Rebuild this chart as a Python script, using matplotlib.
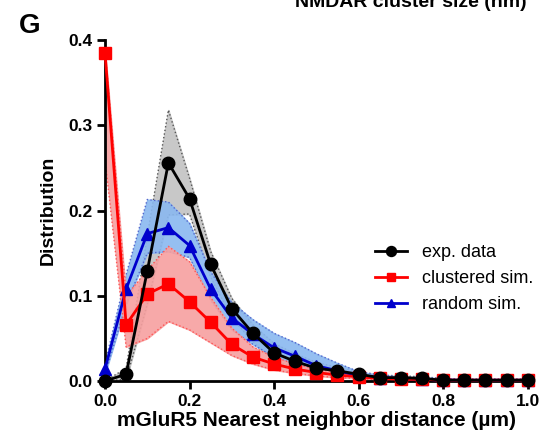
import matplotlib
matplotlib.use("Agg")
import matplotlib.pyplot as plt
import numpy as np

#------------------------------------------------------------------------------
# Datos
#------------------------------------------------------------------------------
distancia = [0.0, 0.05, 0.1, 0.15, 0.2, 0.25, 0.3, 0.35, 0.4, 0.45, 0.5,
             0.55, 0.6, 0.65, 0.7, 0.75, 0.8, 0.85, 0.9, 0.95, 1.0]

exp_media = [0.0, 0.008, 0.129, 0.256, 0.214, 0.137, 0.085, 0.056, 0.033, 0.023, 0.015,
             0.012, 0.008, 0.004, 0.004, 0.003, 0.001, 0.001, 0.001, 0.001, 0.001]
exp_sup = [0.0, 0.015, 0.17, 0.318, 0.238, 0.152, 0.097, 0.066, 0.044, 0.032, 0.022,
           0.016, 0.011, 0.007, 0.006, 0.005, 0.003, 0.002, 0.002, 0.002, 0.002]
exp_inf = [0.0, 0.002, 0.09, 0.195, 0.196, 0.122, 0.074, 0.046, 0.024, 0.016, 0.010,
           0.008, 0.005, 0.002, 0.002, 0.001, 0.0, 0.0, 0.0, 0.0, 0.0]

clus_media = [0.385, 0.066, 0.102, 0.114, 0.093, 0.069, 0.043, 0.028, 0.020, 0.014, 0.010,
              0.007, 0.005, 0.003, 0.002, 0.002, 0.001, 0.001, 0.001, 0.001, 0.001]
clus_sup = [0.39, 0.10, 0.13, 0.158, 0.14, 0.098, 0.062, 0.040, 0.028, 0.020, 0.014,
            0.010, 0.007, 0.005, 0.004, 0.003, 0.002, 0.002, 0.002, 0.002, 0.002]
clus_inf = [0.26, 0.04, 0.05, 0.07, 0.06, 0.045, 0.030, 0.020, 0.013, 0.009, 0.006,
            0.004, 0.003, 0.001, 0.001, 0.0, 0.0, 0.0, 0.0, 0.0, 0.0]

rand_media = [0.014, 0.108, 0.173, 0.180, 0.159, 0.108, 0.074, 0.055, 0.039, 0.029, 0.018,
              0.012, 0.006, 0.004, 0.003, 0.002, 0.001, 0.001, 0.001, 0.001, 0.001]
rand_sup = [0.02, 0.125, 0.213, 0.21, 0.185, 0.128, 0.092, 0.072, 0.056, 0.045, 0.032,
            0.021, 0.011, 0.007, 0.005, 0.004, 0.003, 0.002, 0.002, 0.002, 0.002]
rand_inf = [0.008, 0.09, 0.15, 0.152, 0.145, 0.095, 0.060, 0.043, 0.028, 0.019, 0.011,
            0.007, 0.003, 0.002, 0.001, 0.0, 0.0, 0.0, 0.0, 0.0, 0.0]

ticks_x = [0.0, 0.2, 0.4, 0.6, 0.8, 1.0]
ticks_y = [0.0, 0.1, 0.2, 0.3, 0.4]

#------------------------------------------------------------------------------
# Figura
#------------------------------------------------------------------------------
plt.rcParams['font.family'] = ['Liberation Sans', 'DejaVu Sans']
plt.rcParams['font.weight'] = 'bold'

fig = plt.figure(figsize=(5.44, 4.41), dpi=100)
ax = fig.add_axes([0.193, 0.136, 0.777, 0.773])

# Bandas de error
ax.fill_between(distancia, exp_inf, exp_sup, color='#c8c8c8', zorder=1)
ax.plot(distancia, exp_sup, ':', color='#555555', lw=1, zorder=1)
ax.plot(distancia, exp_inf, ':', color='#555555', lw=1, zorder=1)

ax.fill_between(distancia, rand_inf, rand_sup, color='#8ab8f0', alpha=0.9, zorder=1)
ax.plot(distancia, rand_sup, ':', color='#5566cc', lw=1, zorder=1)
ax.plot(distancia, rand_inf, ':', color='#5566cc', lw=1, zorder=1)

ax.fill_between(distancia, clus_inf, clus_sup, color='#f7a0a0', alpha=0.9, zorder=1)
ax.plot(distancia, clus_sup, ':', color='#ff5555', lw=1, zorder=1)
ax.plot(distancia, clus_inf, ':', color='#ff5555', lw=1, zorder=1)

# Curvas
ax.plot(distancia, rand_media, '-^', color='#0000cc', lw=2, ms=8,
        label='random sim.', zorder=3, clip_on=False)
ax.plot(distancia, clus_media, '-s', color='#ff0000', lw=2, ms=8,
        label='clustered sim.', zorder=4, clip_on=False)
ax.plot(distancia, exp_media, '-o', color='black', lw=2, ms=9,
        label='exp. data', zorder=5, clip_on=False)

ax.set_xlim(0, 1.0)
ax.set_ylim(0, 0.4)
ax.set_xticks(ticks_x)
ax.set_yticks(ticks_y)
ax.set_xticklabels([f'{t:.1f}' for t in ticks_x], fontsize=12.5, fontweight='bold')
ax.set_yticklabels([f'{t:.1f}' for t in ticks_y], fontsize=12.5, fontweight='bold')

for lado in ['top', 'right']:
    ax.spines[lado].set_visible(False)
for lado in ['left', 'bottom']:
    ax.spines[lado].set_linewidth(2)
ax.tick_params(width=2, length=6, direction='out', pad=3)

ax.set_xlabel('mGluR5 Nearest neighbor distance (\u00b5m)', fontsize=15, fontweight='bold', labelpad=2)
ax.set_ylabel('Distribution', fontsize=14, fontweight='bold', labelpad=8)

# Leyenda
h, l = ax.get_legend_handles_labels()
orden = [2, 1, 0]
ax.legend([h[i] for i in orden], [l[i] for i in orden], loc='upper left',
          bbox_to_anchor=(0.6, 0.45), frameon=False,
          prop={'weight': 'normal', 'size': 13}, handlelength=1.8,
          labelspacing=0.5, markerscale=0.8)

# Letra del panel y titulo cortado arriba
fig.text(0.035, 0.925, 'G', fontsize=20, fontweight='bold')
fig.text(0.755, 0.995, 'NMDAR cluster size (nm)', fontsize=14, fontweight='bold',
         ha='center', va='center')

fig.savefig('out.png', dpi=100)
